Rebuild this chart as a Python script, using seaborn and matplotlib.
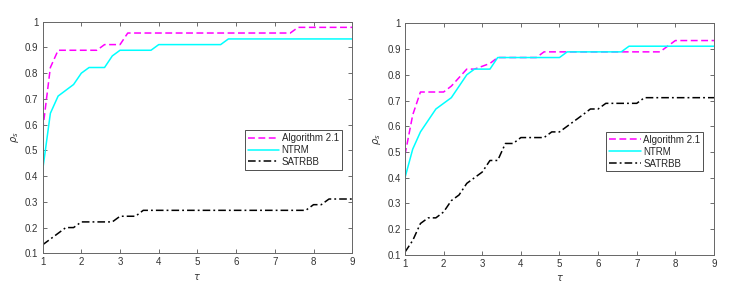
import pandas as pd
import seaborn as sns
import numpy as np
import matplotlib.pyplot as plt

# left panel
alg_x_l = [1, 1.2, 1.4, 2.4, 2.6, 3.0, 3.2, 7.4, 7.6, 9]
alg_y_l = [0.578, 0.822, 0.889, 0.889, 0.911, 0.911, 0.956, 0.956, 0.978, 0.978]
ntrm_x_l = [1, 1.2, 1.4, 1.8, 2.0, 2.2, 2.6, 2.8, 3.0, 3.8, 4.0, 5.6, 5.8, 9]
ntrm_y_l = [0.422, 0.644, 0.711, 0.756, 0.8, 0.822, 0.822, 0.867, 0.889, 0.889, 0.911, 0.911, 0.933, 0.933]
sat_x_l = [1, 1.6, 1.8, 2.0, 2.8, 3.0, 3.4, 3.6, 7.8, 8.0, 8.2, 8.4, 9]
sat_y_l = [0.133, 0.2, 0.2, 0.222, 0.222, 0.244, 0.244, 0.267, 0.267, 0.289, 0.289, 0.311, 0.311]

# right panel
alg_x_r = [1, 1.2, 1.4, 2.0, 2.2, 2.6, 2.8, 3.2, 3.4, 4.4, 4.6, 7.6, 8.0, 9]
alg_y_r = [0.489, 0.644, 0.733, 0.733, 0.756, 0.822, 0.822, 0.844, 0.867, 0.867, 0.889, 0.889, 0.933, 0.933]
ntrm_x_r = [1, 1.2, 1.4, 1.8, 2.2, 2.6, 2.8, 3.2, 3.4, 5.0, 5.2, 6.6, 6.8, 9]
ntrm_y_r = [0.4, 0.511, 0.578, 0.667, 0.711, 0.8, 0.822, 0.822, 0.867, 0.867, 0.889, 0.889, 0.911, 0.911]
sat_x_r = [1, 1.2, 1.4, 1.6, 1.8, 2.0, 2.2, 2.4, 2.6, 2.8, 3.0, 3.2, 3.4, 3.6, 3.8, 4.0,
           4.6, 4.8, 5.0, 5.2, 5.4, 5.6, 5.8, 6.0, 6.2, 7.0, 7.2, 9]
sat_y_r = [0.111, 0.156, 0.222, 0.244, 0.244, 0.267, 0.311, 0.333, 0.378, 0.4, 0.422, 0.467,
           0.467, 0.533, 0.533, 0.556, 0.556, 0.578, 0.578, 0.6, 0.622, 0.644, 0.667, 0.667,
           0.689, 0.689, 0.711, 0.711]

labels = ["Algorithm 2.1", "NTRM", "SATRBB"]
colors = ["#ff00ff", "#00ffff", "#000000"]
styles = [(0, (4.5, 2.3)), "-", (0, (5, 2, 1.2, 2))]
xticks = [1, 2, 3, 4, 5, 6, 7, 8, 9]
yticks = [0.1, 0.2, 0.3, 0.4, 0.5, 0.6, 0.7, 0.8, 0.9, 1]

sns.set_theme(style="white")
plt.rcParams["font.family"] = ["Liberation Sans", "DejaVu Sans"]
plt.rcParams["mathtext.fontset"] = "dejavusans"

fig = plt.figure(figsize=(7.35, 2.92), dpi=100)
ax_l = fig.add_axes([0.058, 0.1325, 0.4212, 0.7932])
ax_r = fig.add_axes([0.551, 0.127, 0.4204, 0.7932])

panels = [
    (ax_l, [(alg_x_l, alg_y_l), (ntrm_x_l, ntrm_y_l), (sat_x_l, sat_y_l)]),
    (ax_r, [(alg_x_r, alg_y_r), (ntrm_x_r, ntrm_y_r), (sat_x_r, sat_y_r)]),
]

for ax, series in panels:
    for (xs, ys), lab, col, ls in zip(series, labels, colors, styles):
        df = pd.DataFrame({"tau": xs, "rho": ys})
        sns.lineplot(data=df, x="tau", y="rho", ax=ax, color=col, linestyle=ls,
                     linewidth=1.1, label=lab)
    ax.set_xlim(1, 9)
    ax.set_ylim(0.1, 1)
    ax.set_xticks(xticks)
    ax.set_xticklabels([str(t) for t in xticks])
    ax.set_yticks(yticks)
    ax.set_yticklabels(["%g" % t for t in yticks])
    ax.tick_params(direction="in", length=3, width=0.6, color="#555555",
                   labelsize=7, labelcolor="#333333", top=True, right=True,
                   bottom=True, left=True, pad=3)
    for sp in ax.spines.values():
        sp.set_color("#666666")
        sp.set_linewidth(0.7)
    ax.set_xlabel(r"$\tau$", fontsize=7, color="#333333", labelpad=3)
    ax.set_ylabel(r"$\rho_s$", fontsize=7, color="#333333", labelpad=3)
    leg = ax.legend(loc="upper right", bbox_to_anchor=(0.966, 0.532), fontsize=7,
                    frameon=True, fancybox=False, framealpha=1, edgecolor="#333333",
                    handlelength=3.2, handletextpad=0.3, labelspacing=0.2,
                    borderpad=0.3, borderaxespad=0)
    leg.get_frame().set_linewidth(0.6)

fig.savefig("out.png", dpi=100)
